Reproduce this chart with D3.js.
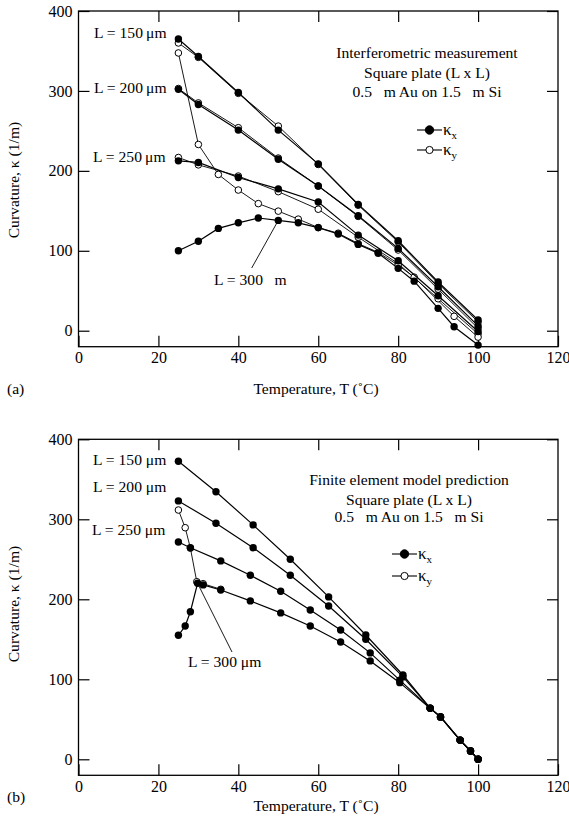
<!DOCTYPE html>
<html><head><meta charset="utf-8">
<script src="https://cdn.jsdelivr.net/npm/d3@7"></script>
<style>
body{margin:0;background:#fff}
svg{display:block}
text{font-family:"Liberation Serif","Times New Roman",serif;fill:#000}
</style>
</head><body>
<svg id="c" width="569" height="831"></svg>
<script>
// ---------- shared ticks ----------
const xTicks = [0, 20, 40, 60, 80, 100, 120];
const yTicks = [0, 100, 200, 300, 400];

// ---------- (a) Interferometric measurement ----------
const measT = [25, 30, 40, 50, 60, 70, 80, 90, 100];
const meas150x = [365, 343, 298, 251, 208.7, 158, 112.5, 61, 13.4];
const meas150y = [360, 342, 297, 256, 208, 157, 111, 59, 11];
const meas200x = [302, 283, 251, 214.6, 181, 143.8, 103, 55, 6];
const meas200y = [303, 285, 254, 216, 181, 143, 101, 52, 3];
const meas250x = [212.5, 210.5, 191.7, 177.5, 161, 119.6, 87.5, 43.8, -1];
const meas250y = [216.7, 207.5, 193.5, 174, 152, 117, 84, 40, -4];
const meas300xT = [25, 30, 35, 40, 45, 50, 55, 60, 65, 70, 75, 80, 84, 90, 94, 100];
const meas300x = [100, 112, 128, 135, 141, 138, 135, 129, 121, 108, 97, 78, 62, 28, 5, -18];
const meas300yT = [25, 30, 35, 40, 45, 50, 55, 60, 65, 70, 75, 80, 84, 94, 100];
const meas300y = [347.5, 233, 195.5, 176, 159, 149.6, 139.6, 129, 122, 109, 98, 82, 67, 18, -8];

// ---------- (b) Finite element model prediction ----------
const fem150T = [25, 34.4, 43.7, 53, 62.6, 71.9, 81.2, 88, 90.6, 95.5, 98.1, 100];
const fem150x = [372.5, 334.5, 293, 250, 203, 155.4, 105.4, 64, 53, 24, 10.4, 0];
const fem200T = [25, 34.4, 43.7, 53, 62.6, 71.9, 81.2, 88, 90.6, 95.5, 98.1, 100];
const fem200x = [323, 295, 264.5, 230, 191.6, 150, 103, 64, 53, 24, 10.4, 0];
const fem250T = [25, 28, 35.6, 43, 50.6, 58, 65.6, 73, 80.4, 88, 90.6, 95.5, 98.1, 100];
const fem250x = [271.6, 264.5, 248, 230, 210, 186.6, 161.6, 133, 99, 64, 53, 24, 10.4, 0];
const fem300T = [25, 26.7, 28, 29.8, 31.2, 35.6, 43, 50.6, 58, 65.6, 73, 80.4, 88, 90.6, 95.5, 98.1, 100];
const fem300x = [155, 166.6, 184.5, 220, 218, 211.6, 198, 183, 166.6, 146.6, 123, 95.8, 63.7, 53, 24, 10.4, 0];
const fem300yT = [25, 26.7, 28, 29.6, 31.2, 35.6];
const fem300y = [311.6, 289.5, 264, 222, 219.5, 212.5];

// ---------- labels ----------
const sizeLabels = ["L = 150 \u03bcm", "L = 200 \u03bcm", "L = 250 \u03bcm"];
const sizeLabelsA = ["L = 150\u2009\u03bcm", "L = 200\u2009\u03bcm", "L = 250\u2009\u03bcm"];

const pair = (T, k) => T.map((t, i) => ({T: t, k: k[i]}));

const panels = [
  {
    top: 11, bottom: 346.7, tag: "(a)", tagY: 389, xLabY: 389,
    title: ["Interferometric measurement", "Square plate (L x L)", "0.5\u2002 m Au on 1.5\u2002 m Si"],
    titleX: 427, titleY: [53, 73, 92],
    legX: 417, legY: [130, 150],
    yLabY: 180,
    sizeText: sizeLabelsA, sizeY: [33, 87.5, 157], sizeX: [94, 94, 93],
    leader: {T: 50, k: 138, lx: 251.7, ly: 268, text: "L = 300\u2002 m", tx: 214, ty: 280},
    ySeries: [pair(measT, meas150y), pair(measT, meas200y), pair(measT, meas250y), pair(meas300yT, meas300y)],
    xSeries: [pair(measT, meas150x), pair(measT, meas200x), pair(measT, meas250x), pair(meas300xT, meas300x)]
  },
  {
    top: 439.3, bottom: 775.3, tag: "(b)", tagY: 797, xLabY: 806,
    title: ["Finite element model prediction", "Square plate (L x L)", "0.5\u2002 m Au on 1.5\u2002 m Si"],
    titleX: 409, titleY: [479.5, 499.5, 517],
    legX: 392, legY: [554, 576],
    yLabY: 604,
    sizeText: sizeLabels, sizeY: [460, 487, 529.5], sizeX: [93, 93, 92],
    leader: {T: 29.8, k: 220, lx: 232, ly: 652, text: "L = 300 \u03bcm", tx: 188, ty: 662},
    ySeries: [pair(fem300yT, fem300y)],
    xSeries: [pair(fem150T, fem150x), pair(fem200T, fem200x), pair(fem250T, fem250x), pair(fem300T, fem300x)]
  }
];

const svg = d3.select("#c");
const X0 = 78.5, X1 = 558;
const FS = 15.6;

panels.forEach(p => {
  const x = d3.scaleLinear().domain([0, 120]).range([X0, X1]);
  const y = d3.scaleLinear().domain([-20, 400]).range([p.bottom, p.top]);
  const g = svg.append("g");

  const ax = (gen, tr, labels, pad) => {
    const a = g.append("g").attr("transform", tr)
      .call(gen.tickSizeInner(-11).tickSizeOuter(0).tickPadding(pad));
    a.select(".domain").remove();
    a.selectAll(".tick line").attr("stroke", "#000").attr("stroke-width", 1.2);
    a.selectAll("text").attr("font-size", 16).attr("font-family", '"Liberation Serif",serif').attr("fill", "#000");
    if (!labels) a.selectAll("text").remove();
    return a;
  };
  ax(d3.axisBottom(x).tickValues(xTicks).tickFormat(d3.format("d")), `translate(0,${p.bottom})`, true, 5);
  ax(d3.axisTop(x).tickValues(xTicks.slice(1, -1)), `translate(0,${p.top})`, false, 3);
  ax(d3.axisLeft(y).tickValues(yTicks).tickFormat(d3.format("d")), `translate(${X0},0)`, true, 6);
  ax(d3.axisRight(y).tickValues(yTicks), `translate(${X1},0)`, false, 3);

  g.append("rect").attr("x", X0).attr("y", p.top).attr("width", X1 - X0).attr("height", p.bottom - p.top)
    .attr("fill", "none").attr("stroke", "#000").attr("stroke-width", 1.3);

  const line = d3.line().x(d => x(d.T)).y(d => y(d.k));

  p.ySeries.forEach(s => {
    g.append("path").datum(s).attr("d", line).attr("fill", "none").attr("stroke", "#000").attr("stroke-width", 0.9);
  });
  p.ySeries.forEach(s => {
    g.selectAll(null).data(s).enter().append("circle")
      .attr("cx", d => x(d.T)).attr("cy", d => y(d.k)).attr("r", 3.3)
      .attr("fill", "#fff").attr("stroke", "#000").attr("stroke-width", 1);
  });
  p.xSeries.forEach(s => {
    g.append("path").datum(s).attr("d", line).attr("fill", "none").attr("stroke", "#000").attr("stroke-width", 1.2);
  });
  p.xSeries.forEach(s => {
    g.selectAll(null).data(s).enter().append("circle")
      .attr("cx", d => x(d.T)).attr("cy", d => y(d.k)).attr("r", 3.7).attr("fill", "#000");
  });

  p.sizeText.forEach((t, i) => {
    g.append("text").attr("x", p.sizeX[i]).attr("y", p.sizeY[i]).attr("dy", "0.35em")
      .attr("font-size", FS).text(t);
  });
  g.append("line").attr("x1", x(p.leader.T)).attr("y1", y(p.leader.k))
    .attr("x2", p.leader.lx).attr("y2", p.leader.ly).attr("stroke", "#000").attr("stroke-width", 0.9);
  g.append("text").attr("x", p.leader.tx).attr("y", p.leader.ty).attr("dy", "0.35em")
    .attr("font-size", FS).text(p.leader.text);

  p.title.forEach((t, i) => {
    g.append("text").attr("x", p.titleX).attr("y", p.titleY[i]).attr("dy", "0.35em")
      .attr("text-anchor", "middle").attr("font-size", FS).text(t);
  });

  ["x", "y"].forEach((sub, i) => {
    const ly = p.legY[i];
    g.append("line").attr("x1", p.legX).attr("x2", p.legX + 25).attr("y1", ly).attr("y2", ly)
      .attr("stroke", "#000").attr("stroke-width", 1.1);
    g.append("circle").attr("cx", p.legX + 12.5).attr("cy", ly).attr("r", i === 0 ? 4.2 : 3.6)
      .attr("fill", i === 0 ? "#000" : "#fff").attr("stroke", "#000").attr("stroke-width", 1);
    const t = g.append("text").attr("x", p.legX + 26).attr("y", ly).attr("dy", "0.3em").attr("font-size", 17);
    t.append("tspan").text("\u03ba");
    t.append("tspan").attr("font-size", 11).attr("dy", "0.35em").text(sub);
  });

  g.append("text").attr("transform", `translate(19,${p.yLabY}) rotate(-90)`).attr("text-anchor", "middle")
    .attr("font-size", FS).text("Curvature, \u03ba (1/m)");
  g.append("text").attr("x", 316).attr("y", p.xLabY).attr("dy", "0.35em").attr("text-anchor", "middle")
    .attr("font-size", FS).text("Temperature, T (\u02daC)");
  g.append("text").attr("x", 7).attr("y", p.tagY).attr("dy", "0.35em").attr("font-size", FS).text(p.tag);
});
</script>
</body></html>
